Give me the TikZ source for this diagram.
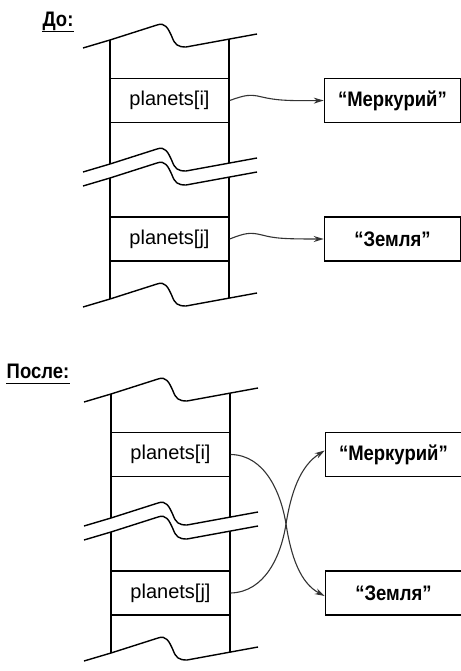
\documentclass[tikz,border=0pt]{standalone}
\usepackage{fontspec}
\setmainfont{Liberation Sans}
\newfontfamily\boxfont[FakeStretch=0.88]{Liberation Sans}
\usetikzlibrary{arrows.meta, positioning}

\tikzset{
  cell/.style={draw, minimum width=119pt, minimum height=44pt, inner sep=0pt,
    font=\fontsize{20}{24}\selectfont},
  valbox/.style={draw, minimum width=136pt, minimum height=44pt, inner sep=0pt,
    font=\boxfont\bfseries\fontsize{21}{25}\selectfont},
  link/.style={-{Stealth[length=10pt,width=6pt]}, line width=1.1pt, black!80},
  caption/.style={font=\boxfont\bfseries\fontsize{21}{25}\selectfont, inner sep=0pt, anchor=base},
}

% break line of the stack, #1 = y where it meets the left wall
\newcommand{\wave}[1]{%
  \draw (83,#1+8) -- (110,#1) -- (157,#1-15)
    .. controls (165,#1-18) and (168,#1-12) .. (172,#1-3)
    .. controls (175,#1+5) and (178,#1+7) .. (186,#1+7) -- (257,#1-6);}

\begin{document}
\begin{tikzpicture}[x=1pt, y=-1pt, line width=1.4pt]
\useasboundingbox (0,0) rectangle (460,671);

% Two states of the array: before and after
\foreach \s/\dx/\dy in {0/0/0, 1/1/354} {
  \begin{scope}[shift={(\dx,\dy)}]
    % walls, broken between the two middle break lines
    \draw (110,40) -- (110,164) (110,178) -- (110,299);
    \draw (229,39.1) -- (229,163.1) (229,177.1) -- (229,298.1);

    % break lines
    \wave{40}
    \wave{164}
    \wave{178}
    \wave{299}

    % cells and the strings
    \node[cell] (pi\s) at (169.5,100.5) {planets[i]};
    \node[cell] (pj\s) at (169.5,239) {planets[j]};
    \node[valbox, right=94pt of pi\s] (m\s) {“Меркурий”};
    \node[valbox, right=94pt of pj\s] (z\s) {“Земля”};
  \end{scope}
}

% Captions
\node[caption] (before) at (58,27) {До:};
\draw[line width=1pt] ([yshift=-5pt]before.base west) -- ([yshift=-5pt]before.base east);
\node[caption] (after) at (38,378) {После:};
\draw[line width=1pt] ([yshift=-5pt]after.base west) -- ([yshift=-5pt]after.base east);

% Before: each element points to its own string
\draw[link] (pi0.east) .. controls (245,95) and (250,94) .. (262,97)
  .. controls (275,100) and (285,101) .. (m0.west);
\draw[link] (pj0.east) .. controls (245,233) and (250,232) .. (262,235)
  .. controls (275,238.5) and (285,239) .. (z0.west);

% After: the references are swapped
\coordinate (cross) at (286,524);
\draw[link] (pi1.east) .. controls (265,455) and (281,493) .. (cross)
  .. controls (291,556) and (300,583) .. ([yshift=-3pt]z1.west);
\draw[link] (pj1.east) .. controls (265,592) and (281,556) .. (cross)
  .. controls (291,493) and (300,466) .. ([yshift=4pt]m1.west);

\end{tikzpicture}
\end{document}
